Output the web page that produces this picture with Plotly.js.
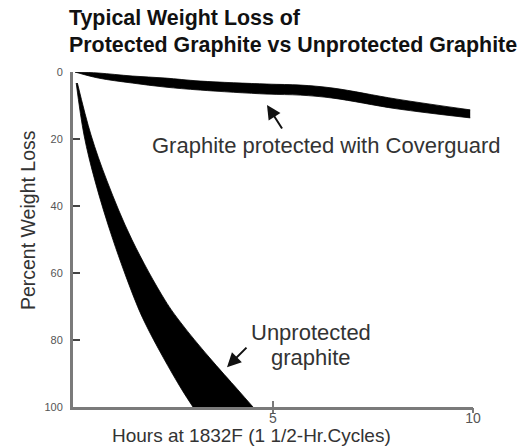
<!DOCTYPE html>
<html>
<head>
<meta charset="utf-8">
<script src="https://cdn.plot.ly/plotly-3.0.1.min.js"></script>
<style>
  html, body { margin: 0; padding: 0; background: #fff; }
  #chart { width: 521px; height: 447px; }
</style>
</head>
<body>
<div id="chart"></div>
<script>
// Protected graphite (Coverguard): band edges, percent weight loss vs hours
const protX      = [0.05, 0.63, 1.48, 2.3, 3.18, 4.85, 5.68, 6.5, 8.1, 9.93];
const protTop    = [0.0, 0.3, 1.2, 1.8, 2.7, 3.6, 3.9, 4.8, 8.1, 11.3];
const protBottom = [0.0, 1.8, 3.3, 4.5, 5.4, 6.6, 6.9, 7.8, 11.0, 13.7];

// Unprotected graphite: band edges (hours) at given percent weight loss
const unprotY     = [3.3, 18.8, 32.5, 50.1, 68.1, 74.9, 85.1, 94.9, 100];
const unprotLeft  = [0.08, 0.275, 0.55, 1.0, 1.55, 1.8, 2.25, 2.725, 3.0];
const unprotRight = [0.11, 0.45, 0.85, 1.475, 2.3, 2.7, 3.4, 4.125, 4.5];

const xTickVals = [5, 10];
const xTickText = ['5', '10'];
const yTickVals = [0, 20, 40, 60, 80, 100];
const yTickText = ['0', '20', '40', '60', '80', '100'];

const titleLine1 = 'Typical Weight Loss of';
const titleLine2 = 'Protected Graphite vs Unprotected Graphite';
const xTitle = 'Hours at 1832F (1 1/2-Hr.Cycles)';
const yTitle = 'Percent Weight Loss';
const protLabel = 'Graphite protected with Coverguard';
const unprotLabel1 = 'Unprotected';
const unprotLabel2 = 'graphite';

const FONT = '"Liberation Sans", Arial, Helvetica, sans-serif';
const edgeLine = {color: '#000', width: 0.8, shape: 'spline', smoothing: 1};

const traces = [
  {type: 'scatter', mode: 'lines', x: protX, y: protTop, line: edgeLine,
   hoverinfo: 'skip', showlegend: false},
  {type: 'scatter', mode: 'lines', x: protX, y: protBottom, line: edgeLine,
   fill: 'tonexty', fillcolor: '#000', hoverinfo: 'skip', showlegend: false},
  {type: 'scatter', mode: 'lines', x: unprotLeft, y: unprotY, line: edgeLine,
   hoverinfo: 'skip', showlegend: false},
  {type: 'scatter', mode: 'lines', x: unprotRight, y: unprotY, line: edgeLine,
   fill: 'tonextx', fillcolor: '#000', hoverinfo: 'skip', showlegend: false},
  // invisible helper so the overlaid tick axis is drawn
  {type: 'scatter', mode: 'markers', x: [xTickVals[0]], y: [0], xaxis: 'x2', yaxis: 'y',
   marker: {opacity: 0}, hoverinfo: 'skip', showlegend: false}
];

const axisColor = '#7a7a7a';
const layout = {
  width: 521, height: 447,
  margin: {l: 73, r: 48, t: 72, b: 40, pad: 0},
  paper_bgcolor: '#fff', plot_bgcolor: '#fff',
  font: {family: FONT, color: '#333'},
  showlegend: false,
  xaxis: {
    range: [0, 10], showgrid: false, zeroline: false,
    showline: true, linecolor: axisColor, linewidth: 3,
    tickmode: 'array', tickvals: xTickVals, ticktext: xTickText,
    ticks: 'inside', ticklen: 6, tickwidth: 2, tickcolor: axisColor,
    ticklabelstandoff: -4,
    tickfont: {family: FONT, size: 14, color: '#555'}
  },
  xaxis2: {
    range: [0, 10], overlaying: 'x', anchor: 'y', side: 'bottom',
    showgrid: false, zeroline: false, showline: false, showticklabels: false,
    tickmode: 'array', tickvals: xTickVals,
    ticks: 'outside', ticklen: 5, tickwidth: 2, tickcolor: axisColor
  },
  yaxis: {
    range: [100, 0], showgrid: false, zeroline: false,
    showline: true, linecolor: axisColor, linewidth: 3,
    tickmode: 'array', tickvals: yTickVals, ticktext: yTickText,
    ticks: 'inside', ticklen: 7, tickwidth: 2, tickcolor: '#444',
    ticklabelstandoff: 5,
    tickfont: {family: FONT, size: 11, color: '#555'}
  },
  annotations: [
    {text: titleLine1, xref: 'paper', yref: 'paper', x: -0.015, y: 1.161,
     xanchor: 'left', yanchor: 'middle', showarrow: false,
     font: {family: FONT, size: 21.4, color: '#111', weight: 'bold'}},
    {text: titleLine2, xref: 'paper', yref: 'paper', x: -0.015, y: 1.0806,
     xanchor: 'left', yanchor: 'middle', showarrow: false,
     font: {family: FONT, size: 21.4, color: '#111', weight: 'bold'}},
    {text: yTitle, xref: 'paper', yref: 'paper', x: -0.1125, y: 0.558,
     xanchor: 'center', yanchor: 'middle', textangle: -90, showarrow: false,
     font: {family: FONT, size: 19.5, color: '#333'}},
    {text: xTitle, xref: 'paper', yref: 'paper', x: 0.445, y: -0.086,
     xanchor: 'center', yanchor: 'middle', showarrow: false,
     font: {family: FONT, size: 19, color: '#333'}},
    {text: protLabel, xref: 'x', yref: 'y', x: 1.925, y: 21.8,
     xanchor: 'left', yanchor: 'middle', showarrow: false,
     font: {family: FONT, size: 22, color: '#333'}},
    {text: unprotLabel1, xref: 'x', yref: 'y', x: 5.95, y: 77.9,
     xanchor: 'center', yanchor: 'middle', showarrow: false,
     font: {family: FONT, size: 22, color: '#333'}},
    {text: unprotLabel2, xref: 'x', yref: 'y', x: 5.95, y: 85.1,
     xanchor: 'center', yanchor: 'middle', showarrow: false,
     font: {family: FONT, size: 22, color: '#333'}},
    {text: '', xref: 'x', yref: 'y', x: 4.85, y: 9.85, ax: 16, ay: 25,
     showarrow: true, arrowhead: 2, arrowsize: 1.4, arrowwidth: 2, arrowcolor: '#111', standoff: 0},
    {text: '', xref: 'x', yref: 'y', x: 3.85, y: 88.1, ax: 21, ay: -21,
     showarrow: true, arrowhead: 2, arrowsize: 1.4, arrowwidth: 2, arrowcolor: '#111', standoff: 0}
  ]
};

Plotly.newPlot('chart', traces, layout, {staticPlot: true, displayModeBar: false});
</script>
</body>
</html>
